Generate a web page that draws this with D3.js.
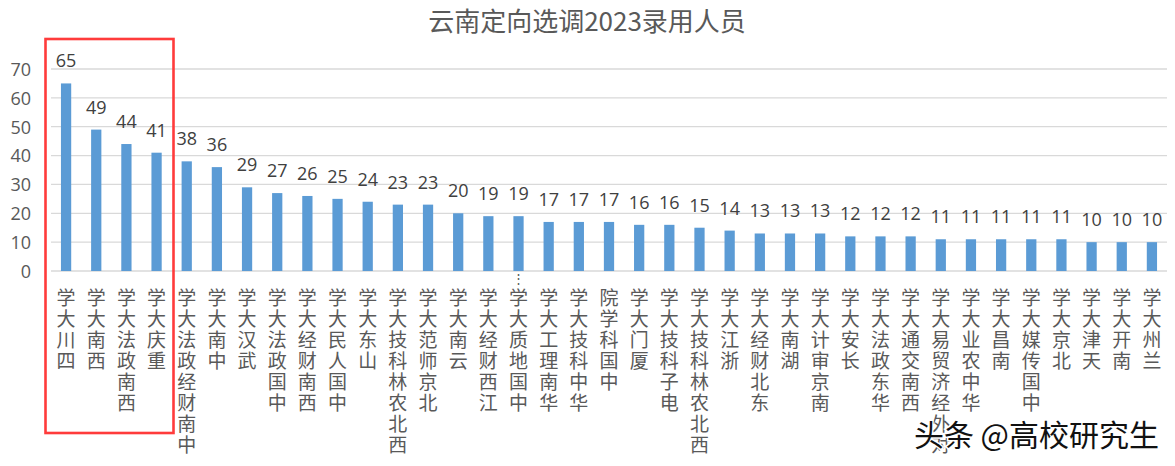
<!DOCTYPE html>
<html><head><meta charset="utf-8">
<script src="https://cdn.jsdelivr.net/npm/d3@7"></script>
<style>
html,body{margin:0;padding:0;background:#fff;}
svg{display:block;}
</style></head>
<body>
<svg id="chart" width="1175" height="466"></svg>
<script>
const title = "云南定向选调2023录用人员";
const categories = ["四川大学","西南大学","西南政法大学","重庆大学","中南财经政法大学","中南大学","武汉大学","中国政法大学","西南财经大学","中国人民大学","山东大学","西北农林科技大学","北京师范大学","云南大学","江西财经大学","中国地质大学…","华南理工大学","华中科技大学","中国科学院","厦门大学","电子科技大学","西北农林科技大学 ","浙江大学","东北财经大学","湖南大学","南京审计大学","长安大学","华东政法大学","西南交通大学","对外经济贸易大学","华中农业大学","南昌大学","中国传媒大学","北京大学","天津大学","南开大学","兰州大学"];
const values = [65,49,44,41,38,36,29,27,26,25,24,23,23,20,19,19,17,17,17,16,16,15,14,13,13,13,12,12,12,11,11,11,11,11,10,10,10];
const yTicks = [0,10,20,30,40,50,60,70];
const watermark = "头条 @高校研究生";

const svg = d3.select("#chart");
const cjk = "'Noto Sans CJK SC','Noto Sans',sans-serif";
const num = "'Open Sans','Noto Sans',sans-serif";

const x = d3.scaleBand().domain(categories).range([51, 1167]).paddingInner(0).paddingOuter(0);
const y = d3.scaleLinear().domain([0, 70]).range([271, 69]);

// title
svg.append("text").attr("x", 587).attr("y", 31).attr("text-anchor", "middle")
  .attr("font-family", cjk).attr("font-size", 26).attr("fill", "#595959").text(title);

// gridlines
svg.append("g").selectAll("line").data(yTicks).join("line")
  .attr("x1", 51).attr("x2", 1167)
  .attr("y1", d => y(d)).attr("y2", d => y(d))
  .attr("stroke", "#d9d9d9").attr("stroke-width", 1.3);

// y axis labels
const yAxis = d3.axisLeft(y).tickValues(yTicks).tickSize(0).tickPadding(0);
const gy = svg.append("g").attr("transform", "translate(31,0)").call(yAxis);
gy.select(".domain").remove();
gy.selectAll("text").attr("font-family", num).attr("font-size", 18).attr("fill", "#595959").attr("dy", "0.35em");

// bars
const bw = x.bandwidth() * 0.34;
svg.append("g").selectAll("rect").data(values).join("rect")
  .attr("x", (d, i) => x(categories[i]) + x.bandwidth() / 2 - bw / 2)
  .attr("y", d => y(d))
  .attr("width", bw)
  .attr("height", d => y(0) - y(d))
  .attr("fill", "#5b9bd5");

// value labels
svg.append("g").selectAll("text").data(values).join("text")
  .attr("x", (d, i) => x(categories[i]) + x.bandwidth() / 2)
  .attr("y", d => y(d) - 16)
  .attr("text-anchor", "middle")
  .attr("font-family", num).attr("font-size", 18).attr("fill", "#404040")
  .text(d => d);

// x labels: stacked upright chars, reading bottom-to-top, anchored at top
const step = 21;
const gx = svg.append("g");
categories.forEach((c) => {
  const chars = Array.from(c.trim()).reverse();
  const cx = x(c) + x.bandwidth() / 2;
  let yy = 305;
  chars.forEach((ch) => {
    if (ch === "…") {
      gx.append("text").attr("x", cx).attr("y", yy - 22)
        .attr("text-anchor", "middle")
        .attr("font-family", cjk).attr("font-size", 13).attr("fill", "#595959").text("⋮");
      return;
    }
    gx.append("text").attr("x", cx).attr("y", yy)
      .attr("text-anchor", "middle")
      .attr("font-family", cjk).attr("font-size", 19).attr("fill", "#595959").text(ch);
    yy += step;
  });
});

// red highlight box
svg.append("rect").attr("x", 45.5).attr("y", 39).attr("width", 128).attr("height", 394)
  .attr("fill", "none").attr("stroke", "#ff3b3b").attr("stroke-width", 2.6);

// watermark
svg.append("text").attr("x", 1159).attr("y", 446).attr("text-anchor", "end")
  .attr("font-family", cjk).attr("font-size", 30).attr("fill", "#111")
  .attr("stroke", "#fff").attr("stroke-width", 3).attr("paint-order", "stroke")
  .text(watermark);
</script>
</body></html>
